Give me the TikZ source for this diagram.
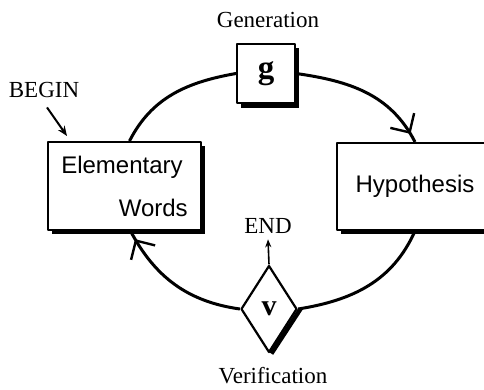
\documentclass[tikz,border=0pt]{standalone}
\usepackage{fontspec}
\setmainfont{Liberation Serif}
\setsansfont{Liberation Sans}
\usetikzlibrary{arrows.meta,positioning,shapes.geometric,shadows,decorations.markings}
\tikzset{
    %Define standard arrow tip
    >={Stealth[length=10pt,width=8pt]},
    %Define style for boxes
    wordbox/.style={
           rectangle,
           draw=black, line width=2pt,
           fill=white,
           minimum width=153pt,
           minimum height=88pt,
           font=\sffamily\fontsize{24}{43}\selectfont,
           drop shadow={shadow xshift=3.5pt,shadow yshift=-3.5pt,fill=black,opacity=1}},
    opbox/.style={
           rectangle,
           draw=black, line width=2pt,
           fill=white,
           minimum width=58pt,
           minimum height=59pt,
           font=\bfseries\fontsize{33}{36}\selectfont,
           drop shadow={shadow xshift=4pt,shadow yshift=-4.5pt,fill=black,opacity=1}},
    testbox/.style={
           diamond,
           draw=black, line width=2.2pt,
           fill=white,
           inner sep=0pt,
           minimum width=56pt,
           minimum height=87pt,
           font=\bfseries\fontsize{30}{34}\selectfont},
    caption/.style={
           font=\fontsize{23}{28}\selectfont,
           inner sep=0pt},
    % Define arrow style
    loopline/.style={
           line width=3pt},
    pil/.style={
           loopline,
           decoration={markings,
             mark=at position -11pt with {\draw[line width=2.4pt,line cap=butt] (-14pt,14pt) -- (0pt,0pt) -- (-14pt,-14pt);}},
           postaction={decorate}}
}
\begin{document}
\begin{tikzpicture}[x=1pt,y=1pt,line join=round]
\useasboundingbox (0,0) rectangle (484,389);
\node[wordbox,align=right](ew) at (124.5,203){Elementary\hspace*{5pt}\\Words};
\node[wordbox,minimum width=156pt,minimum height=87pt](hyp) at (415,202.5){Hypothesis};
\node[opbox](g) at (266,315.5){g};
\node[testbox](v) at (269,80){v};
\draw[line width=4.5pt] ([xshift=2.3pt]v.east) -- ([xshift=2.3pt]v.south);
\node[caption,anchor=base](gen) at (268,361){Generation};
\node[caption,anchor=base](begin) at (44,291){BEGIN};
\node[caption,anchor=base](end) at (268,156){END};
\node[caption,anchor=base](ver) at (273,6){Verification};
% the cycle
\draw[loopline] ([xshift=5pt]ew.north) to[out=63,in=190] (g.west);
\draw[pil] (g.east) to[out=-8,in=117] (hyp.north);
\draw[loopline] (hyp.south) to[out=246,in=9] (v.east);
\draw[pil] (v.west) to[out=172,in=-62] ([xshift=6pt]ew.south);
% start and stop
\coordinate (start) at ([shift={(3pt,-9pt)}]begin.south);
\coordinate (tip) at ([shift={(20pt,5pt)}]ew.north west);
\draw[->,line width=2pt] (start) -- (tip);
\draw[-{Stealth[length=8pt,width=6pt]},line width=1.6pt] (v.north) -- ([yshift=-6pt]end.south);
\end{tikzpicture}
\end{document}
